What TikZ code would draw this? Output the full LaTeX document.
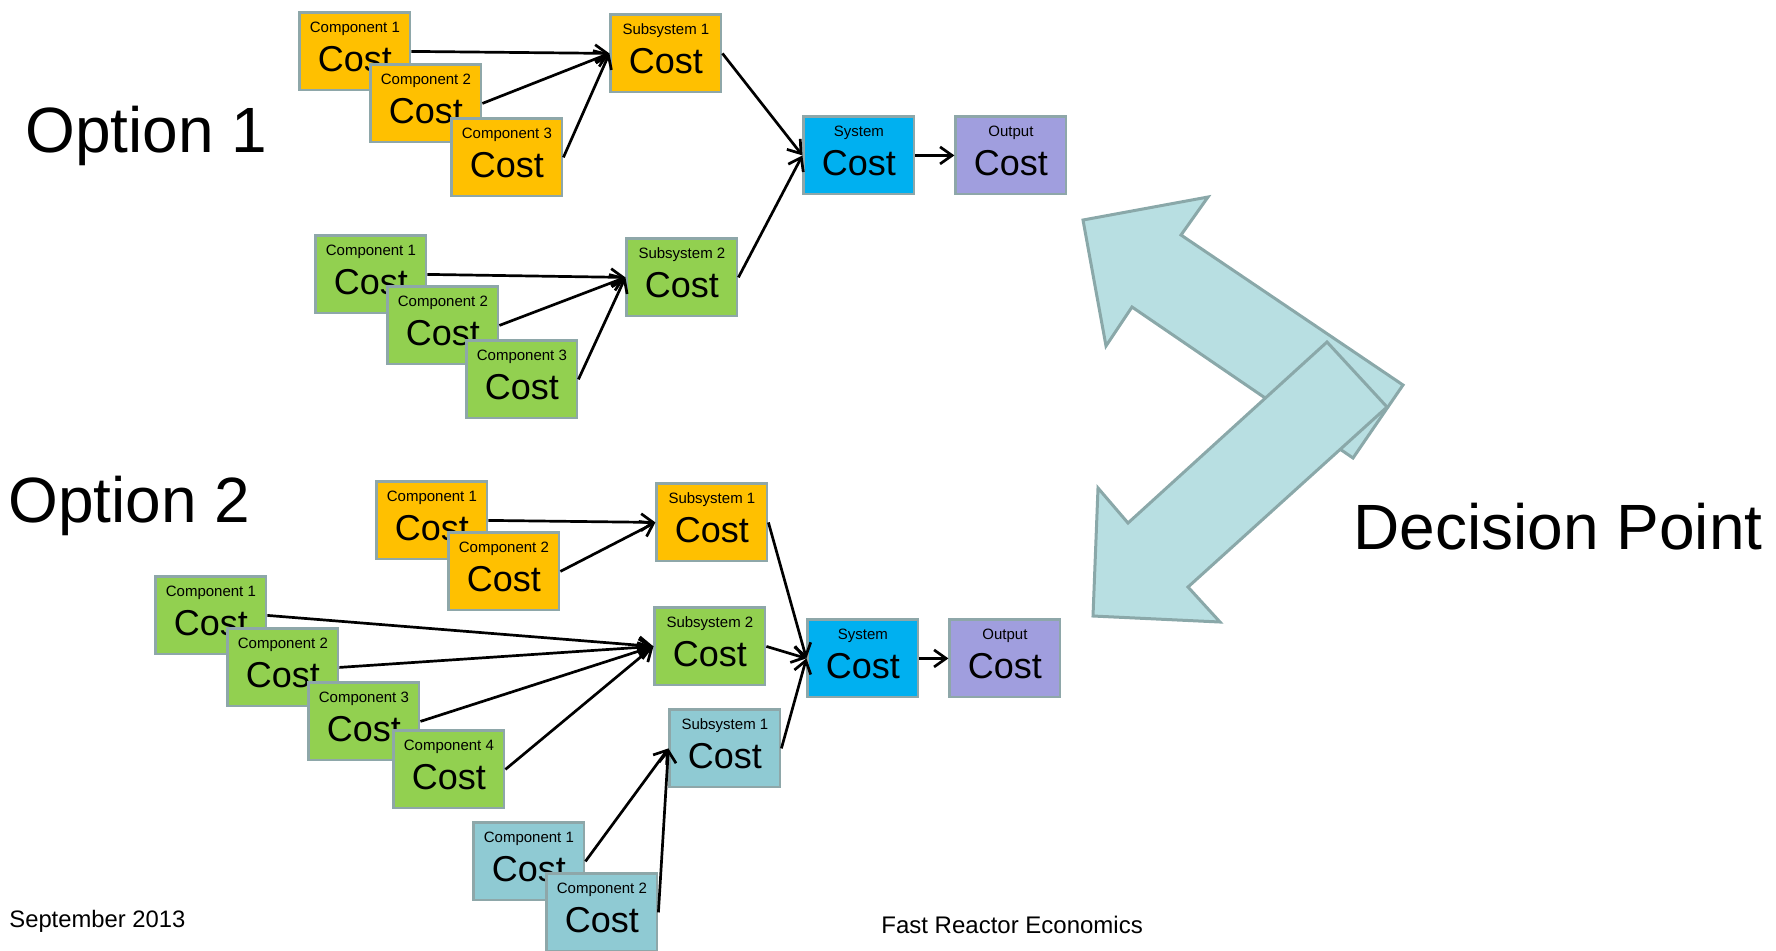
\documentclass[tikz,border=0pt]{standalone}
\usepackage{fontspec}
\setmainfont{Liberation Sans}
\usetikzlibrary{arrows.meta,calc}

\definecolor{gold}{HTML}{FFC000}
\definecolor{leaf}{HTML}{92D050}
\definecolor{aqua}{HTML}{8FCAD3}
\definecolor{sky}{HTML}{00B0F0}
\definecolor{lilac}{HTML}{A09EDE}
\definecolor{rim}{HTML}{8EA7A9}
\definecolor{bigfill}{HTML}{B8DFE2}
\definecolor{bigrim}{HTML}{8AA8A9}

\tikzset{
  cbox/.style={draw=rim, line width=1.4pt, minimum width=55.1pt,
    minimum height=38.6pt, inner sep=0pt, anchor=north west},
  clab/.style={font=\fontsize{7.5pt}{8pt}\selectfont, inner sep=0pt, anchor=base},
  ccost/.style={font=\fontsize{18pt}{20pt}\selectfont, inner sep=0pt, anchor=base},
  link/.style={line width=1.35pt, -{Straight Barb[length=6pt,width=8.5pt]}},
  bigtitle/.style={font=\fontsize{32pt}{36pt}\selectfont, inner sep=0pt, anchor=base west},
  foot/.style={inner sep=0pt, anchor=base west},
  blockarrow/.style={fill=bigfill, draw=bigrim, line width=1.5pt, line join=miter},
}

% cost box: name, x, y (outer top-left), fill colour, caption
\newcommand\costbox[5]{%
  \node[cbox, fill=#4] (#1) at ($(#2,#3)+(1.4,1.4)$) {};
  \node[clab] (#1-lab) at ($(#1.north)+(0,21)$) {#5};
  \node[ccost] (#1-val) at ($(#1.north)+(0,60)$) {Cost};
}

\begin{document}
\begin{tikzpicture}[x=0.5pt, y=-0.5pt]
\useasboundingbox (0,0) rectangle (1776,950);

% headings
\node[bigtitle] (opt1) at (25,152) {Option 1};
\node[bigtitle] (opt2) at (8,522) {Option 2};
\node[bigtitle] (decide) at (1353,549) {Decision Point};
\node[foot, font=\fontsize{11.9pt}{14pt}\selectfont] (date) at (9,927) {September 2013};
\node[foot, font=\fontsize{12pt}{14pt}\selectfont] (topic) at (881,933) {Fast Reactor Economics};

% ---------- Option 1 ----------
\costbox{ac1}{297}{10}{gold}{Component 1}
\costbox{ac2}{368}{62}{gold}{Component 2}
\costbox{ac3}{449}{116}{gold}{Component 3}
\costbox{as1}{608}{12}{gold}{Subsystem 1}

\costbox{ag1}{313}{233}{leaf}{Component 1}
\costbox{ag2}{385}{284}{leaf}{Component 2}
\costbox{ag3}{464}{338}{leaf}{Component 3}
\costbox{as2}{624}{236}{leaf}{Subsystem 2}

\costbox{asys}{801}{114}{sky}{System}
\costbox{aout}{953}{114}{lilac}{Output}

\draw[link] (ac1.east) -- (as1.west);
\draw[link] (ac2.east) -- (as1.west);
\draw[link] (ac3.east) -- (as1.west);
\draw[link] (ag1.east) -- (as2.west);
\draw[link] (ag2.east) -- (as2.west);
\draw[link] (ag3.east) -- (as2.west);
\draw[link] (as1.east) -- (asys.west);
\draw[link] (as2.east) -- (asys.west);
\draw[link] (asys.east) -- (aout.west);

% ---------- Option 2 ----------
\costbox{bc1}{374}{479}{gold}{Component 1}
\costbox{bc2}{446}{530}{gold}{Component 2}
\costbox{bs1}{654}{481}{gold}{Subsystem 1}

\costbox{bg1}{153}{574}{leaf}{Component 1}
\costbox{bg2}{225}{626}{leaf}{Component 2}
\costbox{bg3}{306}{680}{leaf}{Component 3}
\costbox{bg4}{391}{728}{leaf}{Component 4}
\costbox{bs2}{652}{605}{leaf}{Subsystem 2}

\costbox{bt1}{471}{820}{aqua}{Component 1}
\costbox{bt2}{544}{871}{aqua}{Component 2}
\costbox{bs3}{667}{707}{aqua}{Subsystem 1}

\costbox{bsys}{805}{617}{sky}{System}
\costbox{bout}{947}{617}{lilac}{Output}

\draw[link] (bc1.east) -- (bs1.west);
\draw[link] (bc2.east) -- (bs1.west);
\draw[link] (bg1.east) -- (bs2.west);
\draw[link] (bg2.east) -- (bs2.west);
\draw[link] (bg3.east) -- (bs2.west);
\draw[link] (bg4.east) -- (bs2.west);
\draw[link] (bt1.east) -- (bs3.west);
\draw[link] (bt2.east) -- (bs3.west);
\draw[link] (bs1.east) -- (bsys.west);
\draw[link] (bs2.east) -- (bsys.west);
\draw[link] (bs3.east) -- (bsys.west);
\draw[link] (bsys.east) -- (bout.west);

% ---------- decision double arrow ----------
\draw[blockarrow] (1083,220) -- (1208,197) -- (1181,235) -- (1403,385)
  -- (1353,458) -- (1132,307) -- (1106,346) -- cycle;
\draw[blockarrow] (1327,342) -- (1387,407) -- (1188,587) -- (1220,622)
  -- (1093,616) -- (1098,488) -- (1128,523) -- cycle;
\end{tikzpicture}
\end{document}
